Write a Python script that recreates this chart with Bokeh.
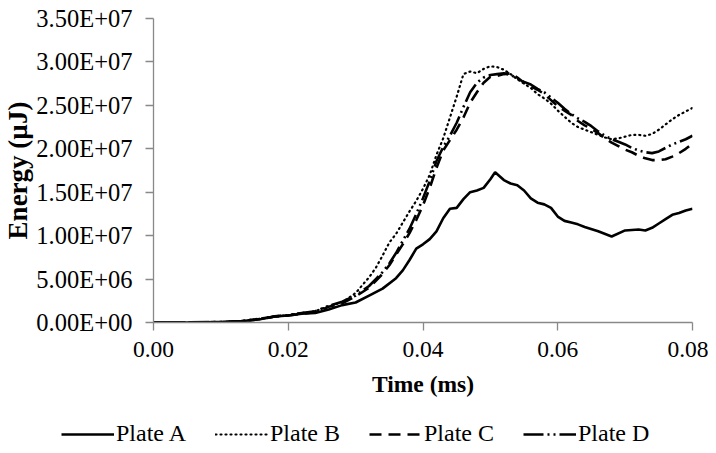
from bokeh.plotting import figure
from bokeh.layouts import column
from bokeh.models import (Range1d, FixedTicker, CustomJSTickFormatter, NumeralTickFormatter,
                          Legend, LegendItem)
from bokeh.embed import file_html
from bokeh.resources import INLINE

# ---------------- data (energy in uJ, time in ms) ----------------
time_a = [0, 0.005, 0.010, 0.013, 0.016, 0.018, 0.020, 0.022, 0.024, 0.026, 0.028, 0.030,
          0.032, 0.034, 0.036, 0.037, 0.038, 0.039, 0.040, 0.041, 0.042, 0.043, 0.044, 0.045,
          0.046, 0.047, 0.048, 0.049, 0.050, 0.0507, 0.052, 0.053, 0.054, 0.055, 0.056, 0.057,
          0.058, 0.059, 0.060, 0.061, 0.062, 0.063, 0.064, 0.066, 0.068, 0.070, 0.072, 0.073,
          0.074, 0.075, 0.076, 0.077, 0.078, 0.079, 0.080]
plate_a = [0, 0, 0.05e6, 0.15e6, 0.4e6, 0.7e6, 0.8e6, 1.0e6, 1.1e6, 1.5e6, 2.0e6, 2.3e6,
           3.1e6, 3.9e6, 5.1e6, 6.0e6, 7.2e6, 8.5e6, 9.0e6, 9.6e6, 10.5e6, 12.0e6, 13.1e6, 13.2e6,
           14.2e6, 15.0e6, 15.2e6, 15.5e6, 16.5e6, 17.3e6, 16.4e6, 16.0e6, 15.8e6, 15.2e6, 14.3e6, 13.8e6,
           13.6e6, 13.2e6, 12.2e6, 11.7e6, 11.5e6, 11.3e6, 11.0e6, 10.5e6, 9.9e6, 10.6e6, 10.7e6, 10.6e6,
           10.9e6, 11.4e6, 11.9e6, 12.4e6, 12.6e6, 12.9e6, 13.1e6]

time_bcd = [0, 0.010, 0.013, 0.016, 0.018, 0.020, 0.022, 0.024, 0.026, 0.028, 0.030, 0.032,
            0.033, 0.034, 0.035, 0.036, 0.037, 0.038, 0.039, 0.040, 0.041, 0.042, 0.043, 0.044,
            0.045, 0.046, 0.047, 0.048, 0.049, 0.050, 0.051, 0.052, 0.053, 0.054, 0.055, 0.056,
            0.057, 0.058, 0.059, 0.060, 0.061, 0.062, 0.063, 0.064, 0.065, 0.066, 0.067, 0.068,
            0.069, 0.070, 0.071, 0.072, 0.073, 0.074, 0.075, 0.076, 0.077, 0.078, 0.079, 0.080]
plate_b = [0, 0.05e6, 0.15e6, 0.45e6, 0.7e6, 0.85e6, 1.1e6, 1.3e6, 1.9e6, 2.3e6, 3.4e6, 5.2e6,
           6.3e6, 7.7e6, 9.2e6, 10.2e6, 11.5e6, 12.8e6, 14.0e6, 15.4e6, 17.0e6, 19.3e6, 21.2e6, 23.6e6,
           26.0e6, 28.6e6, 28.9e6, 28.7e6, 29.2e6, 29.5e6, 29.4e6, 29.1e6, 28.6e6, 28.0e6, 27.5e6, 27.0e6,
           26.3e6, 25.8e6, 25.2e6, 24.4e6, 23.7e6, 23.0e6, 22.5e6, 22.2e6, 21.9e6, 21.6e6, 21.3e6, 21.1e6,
           21.2e6, 21.4e6, 21.6e6, 21.6e6, 21.5e6, 21.7e6, 22.2e6, 22.8e6, 23.4e6, 23.9e6, 24.3e6, 24.7e6]
plate_c = [0, 0.05e6, 0.15e6, 0.4e6, 0.7e6, 0.8e6, 1.0e6, 1.2e6, 1.8e6, 2.2e6, 3.0e6, 4.0e6,
           4.8e6, 5.6e6, 6.6e6, 7.8e6, 9.0e6, 10.3e6, 11.8e6, 13.5e6, 15.5e6, 17.8e6, 19.8e6, 21.0e6,
           22.2e6, 23.6e6, 25.3e6, 26.5e6, 27.6e6, 28.3e6, 28.4e6, 28.6e6, 28.7e6, 28.2e6, 27.6e6, 27.2e6,
           26.8e6, 26.3e6, 25.6e6, 24.9e6, 24.4e6, 23.9e6, 23.2e6, 22.7e6, 22.3e6, 21.8e6, 21.2e6, 20.7e6,
           20.3e6, 19.9e6, 19.6e6, 19.2e6, 18.9e6, 18.7e6, 18.7e6, 18.8e6, 19.1e6, 19.5e6, 20.0e6, 20.6e6]
plate_d = [0, 0.05e6, 0.15e6, 0.45e6, 0.7e6, 0.85e6, 1.1e6, 1.3e6, 1.9e6, 2.4e6, 3.1e6, 4.2e6,
           5.0e6, 5.8e6, 6.8e6, 8.0e6, 9.4e6, 10.8e6, 12.5e6, 14.3e6, 16.3e6, 18.6e6, 20.2e6, 21.5e6,
           23.0e6, 24.8e6, 26.5e6, 27.6e6, 28.2e6, 28.5e6, 28.6e6, 28.7e6, 28.5e6, 28.1e6, 27.7e6, 27.4e6,
           26.9e6, 26.5e6, 25.9e6, 25.3e6, 24.6e6, 24.0e6, 23.5e6, 23.1e6, 22.6e6, 22.0e6, 21.5e6, 21.1e6,
           20.8e6, 20.5e6, 20.1e6, 19.8e6, 19.6e6, 19.5e6, 19.7e6, 20.1e6, 20.5e6, 20.8e6, 21.1e6, 21.5e6]

x_ticks = [0.0, 0.02, 0.04, 0.06, 0.08]
y_ticks = [0, 5e6, 1e7, 1.5e7, 2e7, 2.5e7, 3e7, 3.5e7]
series_names = ["Plate A", "Plate B", "Plate C", "Plate D"]

FONT = "Liberation Serif"
AXIS_GRAY = "#898989"
styles = [dict(line_width=2.6),
          dict(line_width=2.2, line_dash="1 4", line_cap="round"),
          dict(line_width=2.6, line_dash="12 7"),
          dict(line_width=2.6, line_dash="20 4 2 4 2 4")]
series = [(time_a, plate_a), (time_bcd, plate_b), (time_bcd, plate_c), (time_bcd, plate_d)]

p = figure(width=708, height=410, output_backend="svg", toolbar_location=None,
           x_range=Range1d(0, 0.08), y_range=Range1d(0, 3.5e7),
           min_border_left=151, min_border_right=16, min_border_top=18, min_border_bottom=88)
p.outline_line_color = None
p.xgrid.grid_line_color = None
p.ygrid.grid_line_color = None

for (xs, ys), st in zip(series, styles):
    p.line(xs, ys, line_color="black", **st)

# axes
p.xaxis.ticker = FixedTicker(ticks=x_ticks)
p.yaxis.ticker = FixedTicker(ticks=y_ticks)
p.xaxis.formatter = NumeralTickFormatter(format="0.00")
p.yaxis.formatter = CustomJSTickFormatter(code="""
const s = tick.toExponential(2);
const parts = s.split('e');
const sign = parts[1][0];
const d = parts[1].slice(1).padStart(2, '0');
return parts[0] + 'E' + sign + d;
""")
for ax in (p.xaxis[0], p.yaxis[0]):
    ax.axis_line_color = AXIS_GRAY
    ax.axis_line_width = 1.3
    ax.major_tick_line_color = AXIS_GRAY
    ax.major_tick_line_width = 1.3
    ax.major_tick_in = 0
    ax.major_tick_out = 8
    ax.minor_tick_line_color = None
    ax.major_label_text_font = FONT
    ax.major_label_text_color = "black"
    ax.axis_label_text_font = FONT
    ax.axis_label_text_font_style = "bold"
    ax.axis_label_text_color = "black"

p.xaxis.major_label_text_font_size = "23.5px"
p.yaxis.major_label_text_font_size = "24.5px"
p.xaxis.axis_label = "Time (ms)"
p.yaxis.axis_label = "Energy (\u00b5J)"
p.xaxis.axis_label_text_font_size = "23.5px"
p.yaxis.axis_label_text_font_size = "27px"
p.xaxis.major_label_standoff = 11
p.xaxis.axis_label_standoff = 11
p.yaxis.major_label_standoff = 13
p.yaxis.axis_label_standoff = 0

# legend strip below the chart (hidden copies of the series supply the legend glyphs)
pl = figure(width=708, height=43, output_backend="svg", toolbar_location=None,
            x_range=Range1d(0, 0.08), y_range=Range1d(0, 3.5e7),
            min_border_left=0, min_border_right=0, min_border_top=0, min_border_bottom=0)
pl.frame_align = False
pl.outline_line_color = None
pl.axis.visible = False
pl.xgrid.grid_line_color = None
pl.ygrid.grid_line_color = None
items = []
for name, (xs, ys), st in zip(series_names, series, styles):
    r = pl.line(xs, ys, line_color="black", visible=False, **st)
    items.append(LegendItem(label=name, renderers=[r]))
legend = Legend(items=items, orientation="horizontal", location=(61, 6),
                glyph_width=53, glyph_height=20, label_standoff=2, spacing=29,
                padding=0, margin=0, border_line_color=None, background_fill_alpha=0,
                inactive_fill_alpha=0, click_policy="none",
                label_text_font=FONT, label_text_font_size="24px", label_text_color="black")
pl.add_layout(legend, "center")

layout = column(p, pl, spacing=0)
open("out.html", "w").write(file_html(layout, INLINE))
